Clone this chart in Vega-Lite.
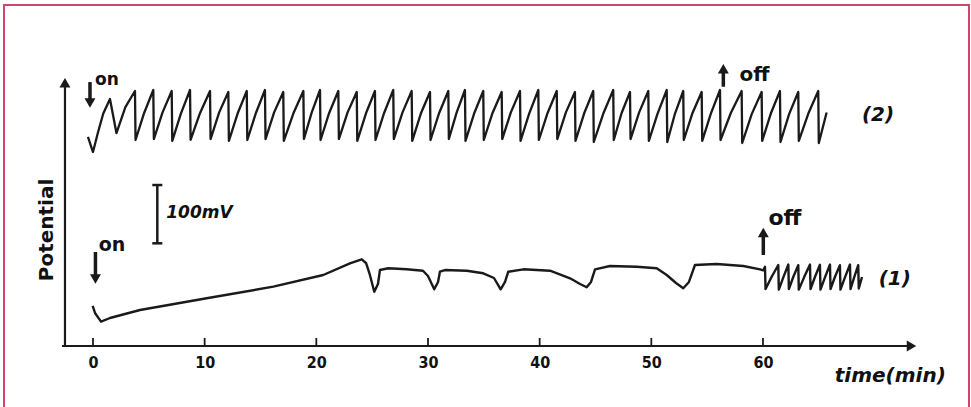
{
  "$schema": "https://vega.github.io/schema/vega-lite/v6.json",
  "width": 965,
  "height": 404,
  "autosize": {"type": "none"},
  "padding": {"left": 4, "top": 5, "right": 2, "bottom": 0},
  "background": "white",
  "config": {"view": {"stroke": "#d2456c", "strokeWidth": 2}},
  "datasets": {
    "trace2": [
      {"t": -0.45, "v": 356.8}, {"t": 0.0, "v": 331.0}, {"t": 0.45, "v": 365}, {"t": 0.92, "v": 397}, {"t": 1.52, "v": 422}, {"t": 2.1, "v": 363.6}, {"t": 2.9, "v": 408},
      {"t": 3.76, "v": 435.7}, {"t": 3.81, "v": 351.6}, {"t": 4.58, "v": 398},
      {"t": 5.40, "v": 437.4}, {"t": 5.45, "v": 353.3}, {"t": 6.23, "v": 399},
      {"t": 7.05, "v": 435.7}, {"t": 7.10, "v": 350.0}, {"t": 7.87, "v": 397},
      {"t": 8.69, "v": 437.4}, {"t": 8.74, "v": 352.0}, {"t": 9.59, "v": 398},
      {"t": 10.48, "v": 435.7}, {"t": 10.53, "v": 353.3}, {"t": 11.30, "v": 399},
      {"t": 12.12, "v": 434.0}, {"t": 12.17, "v": 350.0}, {"t": 12.95, "v": 397},
      {"t": 13.77, "v": 435.7}, {"t": 13.82, "v": 351.6}, {"t": 14.59, "v": 398},
      {"t": 15.40, "v": 437.4}, {"t": 15.45, "v": 353.3}, {"t": 16.22, "v": 399},
      {"t": 17.04, "v": 434.0}, {"t": 17.09, "v": 350.0}, {"t": 17.94, "v": 397},
      {"t": 18.84, "v": 435.7}, {"t": 18.89, "v": 353.3}, {"t": 19.59, "v": 399},
      {"t": 20.33, "v": 437.4}, {"t": 20.38, "v": 351.6}, {"t": 21.15, "v": 398},
      {"t": 21.97, "v": 435.7}, {"t": 22.02, "v": 353.3}, {"t": 22.80, "v": 399},
      {"t": 23.62, "v": 434.0}, {"t": 23.67, "v": 350.0}, {"t": 24.44, "v": 397},
      {"t": 25.25, "v": 435.7}, {"t": 25.30, "v": 351.6}, {"t": 26.07, "v": 398},
      {"t": 26.89, "v": 437.4}, {"t": 26.94, "v": 353.3}, {"t": 27.72, "v": 399},
      {"t": 28.54, "v": 435.7}, {"t": 28.59, "v": 350.0}, {"t": 29.36, "v": 397},
      {"t": 30.18, "v": 434.0}, {"t": 30.23, "v": 351.6}, {"t": 31.00, "v": 398},
      {"t": 31.82, "v": 435.7}, {"t": 31.87, "v": 353.3}, {"t": 32.57, "v": 399},
      {"t": 33.31, "v": 437.4}, {"t": 33.36, "v": 350.0}, {"t": 34.13, "v": 397},
      {"t": 34.95, "v": 435.7}, {"t": 35.00, "v": 351.6}, {"t": 35.78, "v": 398},
      {"t": 36.60, "v": 434.0}, {"t": 36.65, "v": 353.3}, {"t": 37.42, "v": 399},
      {"t": 38.24, "v": 435.7}, {"t": 38.29, "v": 350.0}, {"t": 39.06, "v": 397},
      {"t": 39.88, "v": 437.4}, {"t": 39.93, "v": 351.6}, {"t": 40.71, "v": 398},
      {"t": 41.53, "v": 435.7}, {"t": 41.58, "v": 353.3}, {"t": 42.35, "v": 399},
      {"t": 43.16, "v": 434.0}, {"t": 43.21, "v": 350.0}, {"t": 43.98, "v": 397},
      {"t": 44.80, "v": 435.7}, {"t": 44.85, "v": 348.2}, {"t": 45.70, "v": 397},
      {"t": 46.59, "v": 437.4}, {"t": 46.64, "v": 351.6}, {"t": 47.34, "v": 398},
      {"t": 48.09, "v": 434.0}, {"t": 48.14, "v": 353.3}, {"t": 48.91, "v": 399},
      {"t": 49.73, "v": 435.7}, {"t": 49.78, "v": 350.0}, {"t": 50.56, "v": 397},
      {"t": 51.38, "v": 437.4}, {"t": 51.43, "v": 348.2}, {"t": 52.12, "v": 397},
      {"t": 52.86, "v": 435.7}, {"t": 52.91, "v": 351.6}, {"t": 53.69, "v": 398},
      {"t": 54.51, "v": 434.0}, {"t": 54.56, "v": 350.0}, {"t": 55.33, "v": 397},
      {"t": 56.15, "v": 437.4}, {"t": 56.20, "v": 351.6}, {"t": 57.12, "v": 398},
      {"t": 58.09, "v": 435.7}, {"t": 58.14, "v": 346.5}, {"t": 58.99, "v": 396},
      {"t": 59.88, "v": 434.0}, {"t": 59.93, "v": 350.0}, {"t": 60.70, "v": 397},
      {"t": 61.52, "v": 435.7}, {"t": 61.57, "v": 348.2}, {"t": 62.34, "v": 396},
      {"t": 63.16, "v": 434.0}, {"t": 63.21, "v": 350.0}, {"t": 64.06, "v": 397},
      {"t": 64.95, "v": 435.7}, {"t": 65.00, "v": 346.5}, {"t": 65.70, "v": 398.8}
    ],
    "trace1": [
      {"t": -0.03, "v": 66.9}, {"t": 0.18, "v": 54.9}, {"t": 0.72, "v": 40.0}, {"t": 1.52, "v": 46.3},
      {"t": 4.21, "v": 60.0}, {"t": 10.18, "v": 80.1}, {"t": 16.15, "v": 100.0}, {"t": 20.62, "v": 120.1},
      {"t": 23.01, "v": 140.1}, {"t": 24.06, "v": 147.0}, {"t": 24.45, "v": 140.7}, {"t": 24.80, "v": 120.1},
      {"t": 25.19, "v": 91.4}, {"t": 25.52, "v": 104.6}, {"t": 25.70, "v": 128.6}, {"t": 26.44, "v": 131.6},
      {"t": 28.09, "v": 129.8}, {"t": 29.55, "v": 127.4}, {"t": 30.00, "v": 118.4}, {"t": 30.56, "v": 95.5},
      {"t": 30.90, "v": 108.1}, {"t": 31.07, "v": 125.7}, {"t": 31.52, "v": 128.6}, {"t": 33.47, "v": 127.4},
      {"t": 34.95, "v": 123.0}, {"t": 35.91, "v": 114.9}, {"t": 36.51, "v": 95.5}, {"t": 36.90, "v": 108.1},
      {"t": 37.19, "v": 125.7}, {"t": 38.54, "v": 129.8}, {"t": 40.93, "v": 127.4}, {"t": 42.72, "v": 114.4},
      {"t": 43.62, "v": 104.6}, {"t": 44.21, "v": 99.0}, {"t": 44.60, "v": 108.1}, {"t": 44.96, "v": 129.8},
      {"t": 46.30, "v": 135.5}, {"t": 48.69, "v": 134.3}, {"t": 50.48, "v": 131.6}, {"t": 51.38, "v": 120.1},
      {"t": 52.21, "v": 106.3}, {"t": 52.86, "v": 97.3}, {"t": 53.37, "v": 108.1}, {"t": 53.91, "v": 137.2},
      {"t": 55.85, "v": 138.9}, {"t": 58.24, "v": 135.5}, {"t": 59.73, "v": 129.8}, {"t": 60.03, "v": 128.0},
      {"t": 60.18, "v": 134.0}, {"t": 60.23, "v": 96.1}, {"t": 60.78, "v": 117.0},
      {"t": 61.37, "v": 137.2}, {"t": 61.42, "v": 95.0}, {"t": 61.82, "v": 116.0},
      {"t": 62.27, "v": 138.0}, {"t": 62.32, "v": 96.0}, {"t": 62.72, "v": 117.0},
      {"t": 63.16, "v": 137.0}, {"t": 63.21, "v": 95.0}, {"t": 63.68, "v": 116.0},
      {"t": 64.21, "v": 138.0}, {"t": 64.26, "v": 96.0}, {"t": 64.66, "v": 117.0},
      {"t": 65.10, "v": 137.5}, {"t": 65.15, "v": 95.0}, {"t": 65.55, "v": 116.0},
      {"t": 66.00, "v": 138.0}, {"t": 66.05, "v": 96.0}, {"t": 66.45, "v": 117.0},
      {"t": 66.89, "v": 137.0}, {"t": 66.94, "v": 95.0}, {"t": 67.34, "v": 116.0},
      {"t": 67.79, "v": 138.0}, {"t": 67.84, "v": 96.0}, {"t": 68.18, "v": 117.0},
      {"t": 68.53, "v": 137.0}, {"t": 68.58, "v": 97.0}, {"t": 68.87, "v": 116.6}
    ],
    "axisx": [{"t": -2.78, "t2": 73.0, "v": -1.7}],
    "axisy": [{"t": -2.51, "v": -1.7, "v2": 444}],
    "ticks": [
      {"t": 0, "v": -1.7, "v2": 12}, {"t": 10, "v": -1.7, "v2": 12}, {"t": 20, "v": -1.7, "v2": 12},
      {"t": 30, "v": -1.7, "v2": 12}, {"t": 40, "v": -1.7, "v2": 12}, {"t": 50, "v": -1.7, "v2": 12},
      {"t": 60, "v": -1.7, "v2": 12}
    ],
    "bar": [{"t": 5.76, "v": 174.4, "v2": 274.4}],
    "caps": [{"t": 5.31, "t2": 6.21, "v": 174.4}, {"t": 5.31, "t2": 6.21, "v": 274.4}],
    "shafts": [
      {"t": -0.27, "v": 451, "v2": 420},
      {"t": 0.22, "v": 159.5, "v2": 118},
      {"t": 56.45, "v": 443, "v2": 470},
      {"t": 60.03, "v": 154.4, "v2": 188}
    ],
    "heads": [
      {"t": -0.27, "v": 415, "dir": "down"},
      {"t": 0.22, "v": 113, "dir": "down"},
      {"t": 56.45, "v": 474, "dir": "up"},
      {"t": 60.03, "v": 193, "dir": "up"},
      {"t": 73.3, "v": -1.7, "dir": "right"},
      {"t": -2.51, "v": 450, "dir": "up"}
    ],
    "labels": [
      {"label": "on", "t": 1.25, "v": 455, "which": "on2"},
      {"label": "off", "t": 59.24, "v": 463, "which": "off2"},
      {"label": "on", "t": 1.70, "v": 171.5, "which": "on1"},
      {"label": "off", "t": 61.97, "v": 217.8, "which": "off1"},
      {"label": "(2)", "t": 70.3, "v": 394.5, "which": "c2"},
      {"label": "(1)", "t": 71.8, "v": 114, "which": "c1"},
      {"label": "100mV", "t": 6.56, "v": 226.4, "which": "bar"},
      {"label": "time(min)", "t": 71.4, "v": -53, "which": "xt"},
      {"label": "Potential", "t": -4.12, "v": 197.3, "which": "yt"}
    ]
  },
  "encoding": {
    "x": {
      "field": "t", "type": "quantitative",
      "scale": {"domain": [-7.97, 78.45], "nice": false, "zero": false},
      "axis": {
        "values": [0, 10, 20, 30, 40, 50, 60], "format": "d",
        "domain": false, "ticks": false, "grid": false, "title": null,
        "offset": -63, "labelPadding": 8,
        "labelFont": "DejaVu Sans Condensed", "labelFontSize": 16, "labelFontWeight": "bold", "labelColor": "#111"
      }
    },
    "y": {
      "field": "v", "type": "quantitative",
      "scale": {"domain": [-109.8, 583.2], "nice": false, "zero": false},
      "axis": null
    }
  },
  "layer": [
    {"data": {"name": "trace2"}, "mark": {"type": "line", "color": "#1a1a1a", "strokeWidth": 2.3, "strokeJoin": "round"}},
    {"data": {"name": "trace1"}, "mark": {"type": "line", "color": "#1a1a1a", "strokeWidth": 2.4, "strokeJoin": "round"}},
    {"data": {"name": "axisx"}, "mark": {"type": "rule", "color": "#1a1a1a", "strokeWidth": 2.2}, "encoding": {"x2": {"field": "t2"}}},
    {"data": {"name": "axisy"}, "mark": {"type": "rule", "color": "#1a1a1a", "strokeWidth": 2.2}, "encoding": {"y2": {"field": "v2"}}},
    {"data": {"name": "ticks"}, "mark": {"type": "rule", "color": "#1a1a1a", "strokeWidth": 1.8}, "encoding": {"y2": {"field": "v2"}}},
    {"data": {"name": "bar"}, "mark": {"type": "rule", "color": "#1a1a1a", "strokeWidth": 2.5}, "encoding": {"y2": {"field": "v2"}}},
    {"data": {"name": "caps"}, "mark": {"type": "rule", "color": "#1a1a1a", "strokeWidth": 2.5}, "encoding": {"x2": {"field": "t2"}}},
    {"data": {"name": "shafts"}, "mark": {"type": "rule", "color": "#1a1a1a", "strokeWidth": 3.5}, "encoding": {"y2": {"field": "v2"}}},
    {"data": {"name": "heads"}, "mark": {"type": "point", "filled": true, "color": "#1a1a1a", "opacity": 1, "size": 120},
     "encoding": {"shape": {"field": "dir", "type": "nominal", "scale": {"domain": ["down", "up", "right"], "range": ["triangle-down", "triangle-up", "triangle-right"]}, "legend": null}}},
    {"data": {"name": "labels"}, "transform": [{"filter": "datum.which == 'on2'"}],
     "mark": {"type": "text", "font": "DejaVu Sans", "fontSize": 17, "fontWeight": "bold", "color": "#111", "align": "center", "baseline": "middle"},
     "encoding": {"text": {"field": "label"}}},
    {"data": {"name": "labels"}, "transform": [{"filter": "datum.which == 'off2'"}],
     "mark": {"type": "text", "font": "DejaVu Sans", "fontSize": 20, "fontWeight": "bold", "color": "#111", "align": "center", "baseline": "middle"},
     "encoding": {"text": {"field": "label"}}},
    {"data": {"name": "labels"}, "transform": [{"filter": "datum.which == 'on1'"}],
     "mark": {"type": "text", "font": "DejaVu Sans", "fontSize": 19, "fontWeight": "bold", "color": "#111", "align": "center", "baseline": "middle"},
     "encoding": {"text": {"field": "label"}}},
    {"data": {"name": "labels"}, "transform": [{"filter": "datum.which == 'off1'"}],
     "mark": {"type": "text", "font": "DejaVu Sans", "fontSize": 22, "fontWeight": "bold", "color": "#111", "align": "center", "baseline": "middle"},
     "encoding": {"text": {"field": "label"}}},
    {"data": {"name": "labels"}, "transform": [{"filter": "datum.which == 'c2' || datum.which == 'c1'"}],
     "mark": {"type": "text", "font": "DejaVu Sans", "fontSize": 20, "fontWeight": "bold", "fontStyle": "italic", "color": "#111", "align": "center", "baseline": "middle"},
     "encoding": {"text": {"field": "label"}}},
    {"data": {"name": "labels"}, "transform": [{"filter": "datum.which == 'bar'"}],
     "mark": {"type": "text", "font": "DejaVu Sans", "fontSize": 17, "fontWeight": "bold", "fontStyle": "italic", "color": "#111", "align": "left", "baseline": "middle"},
     "encoding": {"text": {"field": "label"}}},
    {"data": {"name": "labels"}, "transform": [{"filter": "datum.which == 'xt'"}],
     "mark": {"type": "text", "font": "DejaVu Sans", "fontSize": 20, "fontWeight": "bold", "fontStyle": "italic", "color": "#111", "align": "center", "baseline": "middle"},
     "encoding": {"text": {"field": "label"}}},
    {"data": {"name": "labels"}, "transform": [{"filter": "datum.which == 'yt'"}],
     "mark": {"type": "text", "font": "DejaVu Sans", "fontSize": 20, "fontWeight": "bold", "color": "#111", "align": "center", "baseline": "middle", "angle": 270},
     "encoding": {"text": {"field": "label"}}}
  ]
}
